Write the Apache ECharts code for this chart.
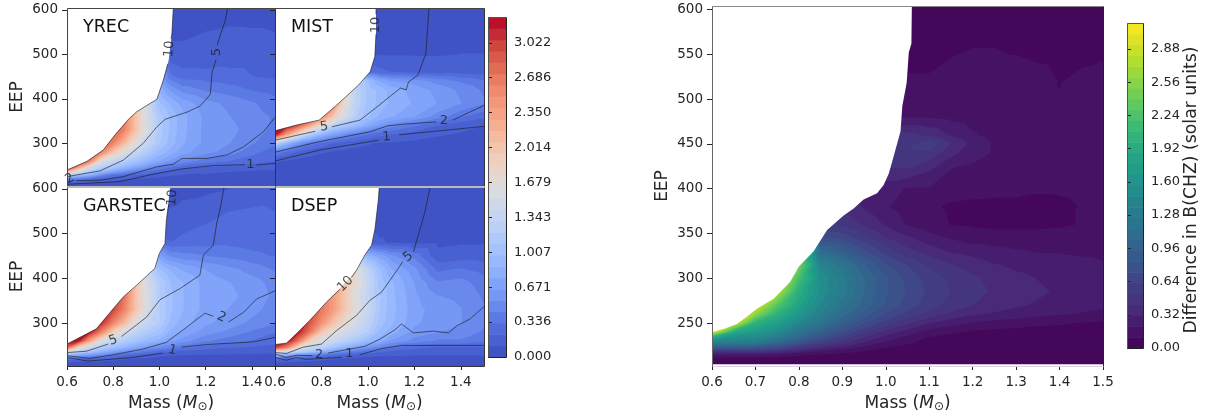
<!DOCTYPE html>
<html><head><meta charset="utf-8">
<style>html,body{margin:0;padding:0;background:#fff}#c{width:1206px;height:420px}</style>
<script src="https://cdn.jsdelivr.net/npm/echarts@6/dist/echarts.min.js"></script>
</head><body><div id="c"></div>
<script>
// ---------- data ----------
const massGrid=[.6,.65,.7,.75,.8,.85,.9,.95,1,1.05,1.1,1.2,1.3,1.4,1.5];
const massTicksLeft=[.6,.8,1,1.2,1.4];
const eepTicksLeft=[300,400,500,600];
const massTicksMain=[.6,.7,.8,.9,1,1.1,1.2,1.3,1.4,1.5];
const eepTicksMain=[250,300,350,400,450,500,550,600];
const cbarTicksLeft=[0,.336,.671,1.007,1.343,1.679,2.014,2.35,2.686,3.022];
const cbarTicksMain=[0,.32,.64,.96,1.28,1.6,1.92,2.24,2.56,2.88];

const yrecEep=[204,212,220,228,236,245,260,280,300,330,360,390,420,450,480,520,604];
const yrecZ=[
[.05,.04,.04,.03,.03,.03,.03,.03,.03,.03,.03,.03,.03,.03,.03],
[.2,.15,.12,.1,.08,.07,.06,.06,.05,.05,.05,.05,.05,.05,.05],
[.55,.4,.3,.22,.16,.12,.1,.1,.08,.08,.08,.07,.07,.06,.06],
[1.2,1,.8,.5,.3,.25,.2,.17,.14,.12,.1,.1,.09,.09,.08],
[2.2,1.5,1.15,.9,.7,.55,.4,.3,.22,.18,.15,.12,.11,.1,.1],
[3.3,2.3,1.5,1.2,1.05,.85,.7,.55,.4,.32,.25,.2,.18,.15,.12],
[3.3,3.3,2.6,1.6,1.4,1.2,1.05,.9,.75,.62,.52,.38,.33,.27,.22],
[3.3,3.3,3.3,2.6,2,1.6,1.35,1.15,.95,.82,.7,.58,.5,.36,.27],
[3.3,3.3,3.3,3,2.6,2.1,1.65,1.35,1.1,.92,.78,.62,.55,.45,.35],
[3.3,3.3,3.3,3.1,2.9,2.6,2,1.55,1.15,.95,.8,.62,.58,.5,.4],
[3.3,3.3,3.3,3.3,3,2.7,2,1.5,1.15,.95,.8,.62,.55,.48,.42],
[3.3,3.3,3.3,3.3,3,2.7,2,1.45,1,.85,.72,.58,.52,.45,.38],
[3.3,3.3,3.3,3.3,3,2.7,2,1.5,.85,.62,.5,.42,.38,.32,.28],
[3,3,3,3,3,2.7,2,1.5,.7,.35,.28,.27,.25,.22,.2],
[2,2,2,2,2,2,1.5,1,.5,.22,.18,.18,.2,.2,.18],
[1,1,1,1,1,1,1,.5,.2,.12,.12,.15,.17,.16,.14],
[.1,.1,.1,.1,.1,.1,.1,.1,.03,.03,.03,.04,.05,.05,.05]];
const yrecEdgeMass=[.6,.685,.757,.808,.866,.902,.989,1.017,1.04,1.054,1.06];
const yrecEdgeEep=[240,259,285,319,354,371,399,442,487,547,604];
const yrecLine10=[[.6,240],[.685,259],[.757,285],[.808,319],[.866,354],[.902,371],[.989,399],[1.017,442],[1.036,478],null,[1.05,535],[1.054,547],[1.06,604]];
const yrecLine5=[[.6,225],[.743,238],[.843,262],[.93,300],[.989,337],[1.025,354],[1.119,370],[1.177,384],[1.22,410],[1.228,461],[1.245,488],null,[1.25,521],[1.285,577],[1.295,604]];
const yrecLine2=[[.64,216],[.743,217],[.843,225],[.989,247],[1.06,253],[1.098,266],[1.206,266],[1.293,274],[1.364,292],[1.45,326],[1.5,358]];
const yrecLine1=[[.6,208],[.83,214],[.96,229],[1.09,242],[1.233,250],[1.37,252],null,[1.42,251],[1.5,255]];
const yrecLabels=[[1.043,512,'10',85],[1.246,505,'5',90],[.613,220,'2',30],[1.394,253,'1',0]];

const mistEep=[204,240,260,280,300,320,340,360,390,420,440,460,500,604];
const mistZ=[
[.03,.03,.02,.02,.02,.02,.02,.02,.02,.02,.02,.02,.02,.02,.02],
[.08,.06,.05,.04,.04,.03,.03,.03,.03,.03,.03,.03,.03,.03,.03],
[.12,.1,.08,.07,.06,.05,.05,.05,.05,.04,.04,.04,.04,.04,.04],
[.45,.3,.2,.15,.12,.1,.09,.08,.07,.07,.07,.06,.06,.06,.06],
[1.3,.9,.6,.4,.3,.22,.17,.14,.12,.1,.1,.09,.08,.08,.08],
[3.3,2.4,1.7,1.2,.9,.7,.55,.42,.34,.26,.22,.15,.12,.1,.1],
[3.3,3.3,2.9,2.3,1.7,1.3,1.1,.95,.78,.62,.5,.36,.22,.14,.11],
[3.3,3.3,3.3,3.2,2.6,2,1.55,1.2,1,.85,.78,.66,.5,.35,.25],
[3.3,3.3,3.3,3.3,3.3,2.6,1.7,1.3,1.05,.95,.85,.75,.65,.55,.45],
[3.3,3.3,3.3,3.3,3.3,3.3,2,1.3,1.05,.95,.82,.72,.62,.52,.42],
[3.3,3.3,3.3,3.3,3.3,3.3,1.6,1.3,1,.75,.65,.6,.5,.42,.35],
[2,2,2,2,2,2,1,.5,.3,.25,.22,.2,.18,.17,.16],
[.5,.5,.5,.5,.5,.5,.5,.3,.12,.1,.1,.1,.1,.11,.11],
[.05,.05,.05,.05,.05,.05,.05,.05,.05,.05,.05,.05,.05,.05,.05]];
const mistEdgeMass=[.6,.693,.79,.866,.96,1.01,1.03,1.035,1.035];
const mistEdgeEep=[328,341,352,386,431,461,495,548,604];
const mistLine10=[[.6,328],[.693,341],[.79,352],[.866,386],[.96,431],[1.01,461],[1.03,495],[1.035,545],null,[1.035,590],[1.035,604]];
const mistLine5=[[.6,307],[.773,327],null,[.845,337],[.966,352],[1.04,382],[1.14,424],[1.165,420],[1.175,438],[1.215,453],[1.25,502],[1.263,604]];
const mistLine2=[[.6,280],[.794,304],[1.01,326],[1.083,339],[1.155,343],[1.295,348],null,[1.365,352],[1.5,385]];
const mistLine1=[[.6,260],[.794,285],[1.047,307],null,[1.135,319],[1.5,338]];
const mistLabels=[[1.033,566,'10',90],[.812,337,'5',8],[1.327,350,'2',0],[1.08,314,'1',5]];

const garstecEep=[204,212,220,228,236,245,260,280,300,330,360,390,420,450,480,520,604];
const garstecZ=[
[.08,.06,.05,.05,.05,.04,.04,.04,.04,.04,.04,.04,.04,.04,.04],
[.12,.1,.08,.07,.07,.06,.06,.06,.05,.05,.05,.05,.05,.05,.05],
[.35,.25,.2,.18,.15,.12,.1,.1,.08,.07,.07,.07,.07,.07,.07],
[.9,.7,.6,.5,.35,.25,.2,.16,.13,.12,.11,.1,.1,.1,.1],
[1.6,1.3,1.05,.85,.7,.55,.45,.35,.28,.22,.18,.15,.14,.13,.12],
[2.8,1.8,1.4,1.15,1,.85,.72,.6,.5,.42,.35,.28,.22,.2,.17],
[3.3,3.2,2.3,1.6,1.35,1.2,1.05,.92,.82,.68,.6,.45,.38,.32,.27],
[3.3,3.3,3.2,2.6,1.9,1.55,1.3,1.15,1.05,.85,.75,.6,.52,.42,.33],
[3.3,3.3,3.3,3.1,2.6,2.1,1.6,1.35,1.2,.95,.82,.68,.6,.52,.45],
[3.3,3.3,3.3,3.3,3,2.6,2,1.55,1.2,1,.88,.72,.65,.58,.5],
[3.3,3.3,3.3,3.3,3,2.7,2,1.55,1.2,1,.88,.72,.68,.62,.52],
[3.3,3.3,3.3,3.3,3,2.7,2,1.5,1.2,.98,.88,.72,.66,.6,.5],
[3.3,3.3,3.3,3.3,3,2.7,2,1.4,1,.85,.75,.65,.58,.5,.42],
[2,2,2,2,2,2,1.5,1,.7,.52,.48,.44,.4,.36,.32],
[1,1,1,1,1,1,.8,.5,.25,.22,.25,.28,.3,.28,.26],
[.5,.5,.5,.5,.5,.5,.4,.3,.15,.15,.18,.22,.28,.3,.26],
[.1,.1,.1,.1,.1,.1,.1,.08,.06,.06,.07,.08,.1,.12,.14]];
const garstecEdgeMass=[.6,.727,.8,.843,.9,.98,.999,1.024,1.03,1.045,1.048];
const garstecEdgeEep=[253,287,332,358,384,422,455,478,530,598,604];
const garstecLine10=[[.6,253],[.727,287],[.8,332],[.843,358],[.9,384],[.98,422],[.999,455],[1.024,478],[1.03,530],[1.04,565],null];
const garstecLine5=[[.6,234],[.684,237],[.778,253],null,[.836,270],[.944,313],[1.002,352],[1.089,377],[1.175,407],[1.19,452],[1.233,474],[1.248,523],[1.262,553],[1.28,604]];
const garstecLine2=[[.6,227],[.698,221],[.8,229],[.93,242],[1.031,257],[1.118,291],[1.197,322],[1.233,315],null,[1.298,302],[1.364,324],[1.421,354],[1.5,372]];
const garstecLine1=[[.6,223],[.691,215],[.886,223],[1.016,233],null,[1.096,246],[1.204,252],[1.407,258],[1.5,268]];
const garstecLabels=[[1.056,580,'10',85],[.8,261,'5',20],[1.268,313,'2',-25],[1.056,239,'1',-15]];

const dsepEep=[204,212,220,228,236,245,260,280,300,330,360,390,420,450,480,520,604];
const dsepZ=[
[.06,.05,.05,.05,.04,.04,.04,.04,.04,.04,.04,.04,.04,.04,.04],
[.12,.1,.08,.07,.06,.06,.05,.05,.05,.05,.05,.05,.05,.05,.05],
[.3,.25,.22,.18,.15,.12,.1,.09,.08,.08,.08,.08,.08,.08,.08],
[.9,.7,.55,.42,.35,.25,.2,.16,.14,.12,.12,.11,.11,.11,.11],
[1.8,1.5,1.25,1.05,.85,.65,.5,.38,.3,.25,.2,.16,.14,.14,.14],
[3,2.6,1.7,1.4,1.25,1.05,.85,.7,.55,.45,.35,.25,.2,.2,.2],
[3.3,3.3,2.7,1.9,1.6,1.4,1.25,1.1,.95,.82,.65,.5,.42,.42,.35],
[3.3,3.3,3.2,2.7,2,1.7,1.5,1.35,1.2,.95,.82,.62,.55,.52,.42],
[3.3,3.3,3.3,2.9,2.5,2.05,1.75,1.5,1.3,1.05,.9,.68,.58,.55,.45],
[3.3,3.3,3.3,3,2.7,2.4,2,1.65,1.4,1.1,.92,.7,.6,.55,.45],
[3.3,3.3,3.3,3,2.7,2.4,2,1.6,1.35,1.1,.92,.68,.55,.52,.42],
[3.3,3.3,3.3,3,2.7,2.4,2,1.7,1.4,1.05,.9,.65,.45,.48,.38],
[3.3,3.3,3.3,3,2.7,2.4,2,1.7,1.3,1,.78,.58,.3,.34,.28],
[2,2,2,2,2,2,2,1.3,.85,.72,.58,.4,.14,.16,.16],
[.5,.5,.5,.5,.5,.5,.5,.3,.15,.12,.1,.08,.09,.1,.1],
[.1,.1,.1,.1,.1,.1,.1,.1,.08,.08,.08,.08,.08,.08,.08],
[.04,.04,.04,.04,.04,.04,.04,.04,.04,.04,.04,.04,.04,.04,.04]];
const dsepEdgeMass=[.6,.649,.692,.75,.822,.879,.951,.987,1.016,1.03,1.045,1.049];
const dsepEdgeEep=[252,255,276,306,347,377,418,452,474,508,575,604];
const dsepLine10=[[.6,252],[.649,255],[.692,276],[.75,306],[.822,347],[.879,375],null,[.93,402],[.951,418],[.987,452],[1.016,474],[1.03,508],[1.045,575],[1.049,604]];
const dsepLine5=[[.6,234],[.649,232],[.721,246],[.8,253],[.865,283],[.951,317],[1.009,351],[1.059,369],[1.131,422],[1.15,437],null,[1.196,459],[1.232,523],[1.246,549],[1.268,604]];
const dsepLine2=[[.6,231],[.649,223],[.692,228],[.761,227],null,[.829,233],[.987,248],[1.052,264],[1.117,285],[1.145,298],[1.196,278],[1.282,282],[1.347,278],[1.383,294],[1.44,309],[1.5,337]];
const dsepLine1=[[.6,223],[.649,217],[.692,223],[.735,219],[.886,223],null,[.965,229],[1.052,242],[1.145,250],[1.5,250]];
const dsepLabels=[[.903,387,'10',45],[1.174,448,'5',40],[.79,230,'2',0],[.92,232,'1',0]];

// main panel: one list per mass, each running up through mainEep
const mainMass=[.6,.65,.7,.75,.8,.85,.9,.95,1,1.05,1.1,1.15,1.2,1.25,1.3,1.35,1.4,1.45,1.5];
const mainEep=[204,210,216,222,228,234,240,250,260,270,285,300,315,330,345,360,380,400,420,440,450,460,480,520,560,604];
const mainColumns=[
[.02,.05,.25,.85,1.35,1.9,3.05,3.1,3.1,3.1,3.1,3.1,3.1,3.1,3.1,3.1,3,3,3,3,3,2,1,.5,.2,.02],
[.02,.05,.3,.85,1.3,1.55,1.9,3,3.1,3.1,3.1,3.1,3.1,3.1,3.1,3.1,3,3,3,3,3,2,1,.5,.2,.02],
[.02,.05,.3,.8,1.25,1.5,1.7,2,2.6,3,3.1,3.1,3.1,3.1,3.1,3.1,3,3,3,3,3,2,1,.5,.2,.02],
[.02,.05,.25,.7,1.05,1.3,1.5,1.75,2,2.3,2.8,3.1,3.1,3.1,3.1,3.1,3,3,3,3,3,2,1,.5,.2,.02],
[.02,.04,.18,.5,.8,1.05,1.2,1.45,1.65,1.8,1.95,2.2,2.5,2.8,3,3,3,3,3,3,3,2,1,.5,.2,.02],
[.02,.03,.12,.35,.6,.8,.95,1.2,1.35,1.45,1.55,1.55,1.4,1.1,.75,.6,.6,.6,.6,.6,.6,.6,.5,.3,.1,.02],
[.02,.03,.1,.25,.45,.6,.75,.95,1.1,1.2,1.3,1.3,1.2,.95,.7,.5,.4,.4,.4,.4,.4,.4,.3,.2,.1,.02],
[.02,.03,.07,.17,.3,.42,.55,.75,.9,1,1.05,1.05,.95,.75,.55,.4,.3,.25,.3,.4,.4,.4,.25,.15,.08,.02],
[.02,.02,.05,.1,.18,.28,.38,.58,.72,.82,.85,.85,.75,.58,.42,.3,.22,.25,.4,.5,.5,.45,.2,.12,.06,.02],
[.02,.02,.04,.07,.12,.18,.26,.45,.6,.68,.72,.7,.62,.45,.33,.2,.15,.2,.4,.5,.5,.45,.2,.12,.05,.02],
[.02,.02,.03,.05,.07,.1,.16,.32,.48,.57,.6,.58,.5,.37,.25,.15,.12,.2,.32,.5,.6,.4,.2,.12,.05,.02],
[.02,.02,.02,.03,.05,.07,.12,.25,.4,.48,.52,.5,.42,.3,.2,.1,.09,.15,.2,.35,.42,.3,.18,.15,.08,.02],
[.02,.02,.02,.03,.05,.06,.09,.2,.33,.42,.46,.44,.37,.27,.16,.09,.08,.14,.18,.25,.28,.22,.16,.16,.1,.02],
[.02,.02,.02,.03,.04,.05,.08,.17,.3,.37,.4,.38,.32,.24,.15,.08,.07,.14,.18,.2,.2,.17,.16,.17,.1,.02],
[.02,.02,.02,.03,.04,.05,.07,.15,.27,.33,.36,.34,.29,.22,.15,.08,.07,.14,.2,.2,.2,.17,.16,.17,.08,.02],
[.02,.02,.02,.03,.04,.05,.06,.13,.24,.3,.33,.31,.27,.2,.15,.08,.07,.12,.2,.2,.18,.15,.14,.15,.06,.02],
[.02,.02,.02,.03,.03,.04,.06,.12,.22,.27,.3,.28,.25,.2,.15,.09,.08,.12,.16,.16,.16,.14,.12,.1,.05,.02],
[.02,.02,.02,.03,.03,.04,.05,.1,.2,.25,.28,.27,.24,.19,.15,.11,.11,.13,.16,.16,.16,.15,.16,.13,.06,.02],
[.02,.02,.02,.03,.03,.04,.05,.09,.18,.23,.26,.25,.22,.18,.14,.11,.11,.13,.15,.15,.15,.14,.16,.15,.07,.02]];
const mainEdgeMass=[.6,.63,.657,.68,.703,.742,.78,.8,.834,.865,.903,.926,.949,.98,.995,1.007,1.018,1.034,1.038,1.048,1.053,1.059,1.06];
const mainEdgeEep=[240,244,249,257,266,277,296,313,330,354,370,378,388,395,404,417,436,464,492,518,552,562,604];

const coolwarm=['#3b4cc0','#5673e0','#7b9ff9','#9ebeff','#c0d4f5','#dddcdc','#f2cbb7','#f7a889','#ee8468','#d65244','#b40426'];
const viridis=['#440154','#482878','#3e4989','#31688e','#26828e','#1f9e89','#35b779','#6ece58','#b5de2b','#fde725'];
const bandCount=30, leftMax=3.27, mainMax=3.13;

// ---------- helpers ----------
function hex(c){return [1,3,5].map(i=>parseInt(c.substr(i,2),16));}
function cmap(stops,t){t=Math.max(0,Math.min(1,t))*(stops.length-1);const i=Math.min(stops.length-2,Math.floor(t)),f=t-i,a=hex(stops[i]),b=hex(stops[i+1]);
  return 'rgb('+a.map((v,k)=>Math.round(v+(b[k]-v)*f)).join(',')+')';}
function clipTri(tri,lo){const out=[];for(let i=0;i<3;i++){const p=tri[i],q=tri[(i+1)%3];
  if(p[2]>=lo)out.push([p[0],p[1]]);
  if((p[2]>=lo)!==(q[2]>=lo)){const f=(lo-p[2])/(q[2]-p[2]);out.push([p[0]+(q[0]-p[0])*f,p[1]+(q[1]-p[1])*f]);}}
  return out.length>=3?out:null;}
function contourPolys(M,E,Z,lo){const res=[];
  for(let r=0;r<E.length-1;r++)for(let c=0;c<M.length-1;c++){
    const a=[M[c],E[r],Z[r][c]],b=[M[c+1],E[r],Z[r][c+1]],d=[M[c+1],E[r+1],Z[r+1][c+1]],e=[M[c],E[r+1],Z[r+1][c]];
    for(const t of [[a,b,d],[a,d,e]]){const p=clipTri(t,lo);if(p)res.push(p);}}
  return res;}
echarts.graphic.registerShape('polyset',echarts.graphic.extendShape({type:'polyset',shape:{polys:[]},
  buildPath(ctx,s){for(const p of s.polys){ctx.moveTo(p[0][0],p[0][1]);for(let i=1;i<p.length;i++)ctx.lineTo(p[i][0],p[i][1]);ctx.closePath();}}}));

const FONT='DejaVu Sans',INK='#262626';
const grid=[],xAxis=[],yAxis=[],series=[],graphic=[];
function massName(){return '{a|Mass (}{b|M}{c|⊙}{a|)}';}
const massRich={a:{fontFamily:FONT,fontSize:17,color:INK},b:{fontFamily:FONT,fontSize:17,fontStyle:'italic',color:INK},c:{fontFamily:FONT,fontSize:12,color:INK,padding:[7,0,0,0]}};
function line(x1,y1,x2,y2,color){graphic.push({type:'line',z:100,silent:true,shape:{x1,y1,x2,y2},style:{stroke:color,lineWidth:1}});}

function addPanel(o){
  const g=grid.length,M=o.M||massGrid;
  grid.push({left:o.x,top:o.y,width:o.w,height:o.h,containLabel:false});
  xAxis.push({gridIndex:g,type:'value',min:.6,max:1.5,z:5,splitLine:{show:false},axisLine:{show:false},
    axisTick:{show:o.xlabels,length:4,lineStyle:{color:INK},customValues:o.xticks},
    axisLabel:{show:o.xlabels,customValues:o.xticks,formatter:v=>(+v).toFixed(1),fontFamily:FONT,fontSize:13.5,color:INK,margin:9,hideOverlap:false,showMinLabel:true,showMaxLabel:true},
    name:o.xname?massName():'',nameLocation:'middle',nameGap:28,nameTextStyle:{rich:massRich}});
  yAxis.push({gridIndex:g,type:'value',min:o.ymin,max:o.ymax,z:5,splitLine:{show:false},axisLine:{show:false},
    axisTick:{show:true,length:5,lineStyle:{color:INK},customValues:o.yticks},
    axisLabel:{show:o.ylabels,customValues:o.yticks,formatter:v=>String(v),fontFamily:FONT,fontSize:13.5,color:INK,margin:9,hideOverlap:false},
    name:o.ylabels?'EEP':'',nameLocation:'middle',nameRotate:90,nameGap:41,nameTextStyle:{fontFamily:FONT,fontSize:17,color:INK}});
  // filled contour bands, painted from the lowest level upward
  const levels=[];for(let k=0;k<bandCount;k++)levels.push([k*o.max/bandCount,(k+1)*o.max/bandCount]);
  const polysByLevel=levels.map(l=>contourPolys(M,o.E,o.Z,l[0]));
  series.push({type:'custom',xAxisIndex:g,yAxisIndex:g,coordinateSystem:'cartesian2d',clip:true,silent:true,animation:false,z:2,
    data:levels,encode:{x:[],y:[]},progressive:0,
    renderItem(p,api){const k=p.dataIndex;
      const polys=polysByLevel[k].map(pl=>pl.map(pt=>api.coord(pt)));
      return {type:'polyset',shape:{polys},style:{fill:cmap(o.cmap,(k+.5)/bandCount)}};}});
  // white area where the grid has no models
  const maskPts=o.edgeM.map((m,i)=>[m,o.edgeE[i]]);
  maskPts.push([o.edgeM[o.edgeM.length-1],o.ymax+5],[.59,o.ymax+5],[.59,o.edgeE[0]]);
  series.push({type:'custom',xAxisIndex:g,yAxisIndex:g,coordinateSystem:'cartesian2d',clip:true,silent:true,animation:false,z:3,
    data:[[0,0]],encode:{x:[],y:[]},
    renderItem(p,api){return {type:'polygon',shape:{points:maskPts.map(pt=>api.coord(pt))},style:{fill:'#fff'}};}});
  (o.lines||[]).forEach(l=>series.push({type:'line',xAxisIndex:g,yAxisIndex:g,data:l.map(d=>d||[null,null]),connectNulls:false,showSymbol:false,symbol:'none',silent:true,animation:false,z:4,clip:true,
    lineStyle:{color:'#1c1c1c',width:.8,opacity:.8}}));
  if(o.labels)series.push({type:'scatter',xAxisIndex:g,yAxisIndex:g,symbolSize:1,itemStyle:{color:'transparent'},silent:true,animation:false,z:6,clip:false,
    data:o.labels.map(l=>({value:[l[0],l[1]],label:{show:true,position:'inside',formatter:l[2],rotate:l[3],fontFamily:FONT,fontSize:13,color:'#222'}}))});
  if(o.title)graphic.push({type:'text',z:100,silent:true,x:o.x+16,y:o.y+10,style:{text:o.title,fontFamily:FONT,fontSize:17.5,fill:'#111'}});
  const X=o.x+.5,Y=o.y+.5,R=o.x+o.w+.5,B=o.y+o.h+.5;
  line(X,Y,R,Y,o.frame[0]);line(R,Y,R,B,o.frame[1]);line(X,B,R,B,o.frame[2]);line(X,Y,X,B,o.frame[3]);
}
function addBar(o){
  const g=grid.length;
  grid.push({left:o.x,top:o.y,width:o.w,height:o.h});
  xAxis.push({gridIndex:g,type:'value',min:0,max:1,show:false});
  yAxis.push({gridIndex:g,type:'value',position:'right',min:0,max:o.max,z:5,splitLine:{show:false},axisLine:{show:false},
    axisTick:{show:true,length:4,lineStyle:{color:INK},customValues:o.ticks},
    axisLabel:{customValues:o.ticks,formatter:v=>(+v).toFixed(o.dec),fontFamily:FONT,fontSize:13,color:INK,margin:8,hideOverlap:false}});
  const levels=[];for(let k=0;k<bandCount;k++)levels.push([k*o.max/bandCount,(k+1)*o.max/bandCount]);
  series.push({type:'custom',xAxisIndex:g,yAxisIndex:g,coordinateSystem:'cartesian2d',silent:true,animation:false,z:2,
    data:levels,encode:{x:[],y:[]},
    renderItem(p,api){const k=p.dataIndex,a=api.coord([0,levels[k][1]]),b=api.coord([1,levels[k][0]]);
      return {type:'rect',shape:{x:a[0],y:a[1],width:b[0]-a[0],height:b[1]-a[1]+.6},style:{fill:cmap(o.cmap,(k+.5)/bandCount)}};}});
  const X=o.x+.5,Y=o.y+.5,R=o.x+o.w+.5,B=o.y+o.h+.5;
  line(X,Y,R,Y,'#555');line(R,Y,R,B,'#222');line(X,B,R,B,'#222');line(X,Y,X,B,'#555');
}

const common={max:leftMax,cmap:coolwarm,xticks:massTicksLeft,yticks:eepTicksLeft,ymin:204,ymax:604,w:208,h:178};
addPanel({...common,x:67,y:8,title:'YREC',E:yrecEep,Z:yrecZ,edgeM:yrecEdgeMass,edgeE:yrecEdgeEep,lines:[yrecLine10,yrecLine5,yrecLine2,yrecLine1],labels:yrecLabels,xlabels:false,ylabels:true,frame:['#444','#333','#bbb','#444']});
addPanel({...common,x:275,y:8,w:209,title:'MIST',E:mistEep,Z:mistZ,edgeM:mistEdgeMass,edgeE:mistEdgeEep,lines:[mistLine10,mistLine5,mistLine2,mistLine1],labels:mistLabels,xlabels:false,ylabels:false,frame:['#444','#333','#bbb','#333']});
addPanel({...common,x:67,y:187,h:179,title:'GARSTEC',E:garstecEep,Z:garstecZ,edgeM:garstecEdgeMass,edgeE:garstecEdgeEep,lines:[garstecLine10,garstecLine5,garstecLine2,garstecLine1],labels:garstecLabels,xlabels:true,xname:true,ylabels:true,frame:['#bbb','#333','#333','#444']});
addPanel({...common,x:275,y:187,w:209,h:179,title:'DSEP',E:dsepEep,Z:dsepZ,edgeM:dsepEdgeMass,edgeE:dsepEdgeEep,lines:[dsepLine10,dsepLine5,dsepLine2,dsepLine1],labels:dsepLabels,xlabels:true,xname:true,ylabels:false,frame:['#bbb','#333','#333','#333']});
const mainZ=mainEep.map((_,r)=>mainColumns.map(col=>col[r]));
addPanel({max:mainMax,cmap:viridis,M:mainMass,xticks:massTicksMain,yticks:eepTicksMain,ymin:202,ymax:604,x:712,y:6,w:391,h:360,E:mainEep,Z:mainZ,edgeM:mainEdgeMass,edgeE:mainEdgeEep,xlabels:true,xname:true,ylabels:true,frame:['#888','#222','#d8d0e0','#666']});
addBar({x:488,y:17,w:18,h:340,max:leftMax,cmap:coolwarm,ticks:cbarTicksLeft,dec:3});
addBar({x:1127,y:23,w:16,h:325,max:mainMax,cmap:viridis,ticks:cbarTicksMain,dec:2});
graphic.push({type:'text',z:100,silent:true,x:1192,y:190,rotation:Math.PI/2,style:{text:'Difference in B(CHZ) (solar units)',fontFamily:FONT,fontSize:17.3,fill:INK,align:'center',verticalAlign:'middle'}});

const chart=echarts.init(document.getElementById('c'),null,{renderer:'canvas'});
chart.setOption({animation:false,backgroundColor:'#fff',grid,xAxis,yAxis,series,graphic:{elements:graphic}});
</script></body></html>
